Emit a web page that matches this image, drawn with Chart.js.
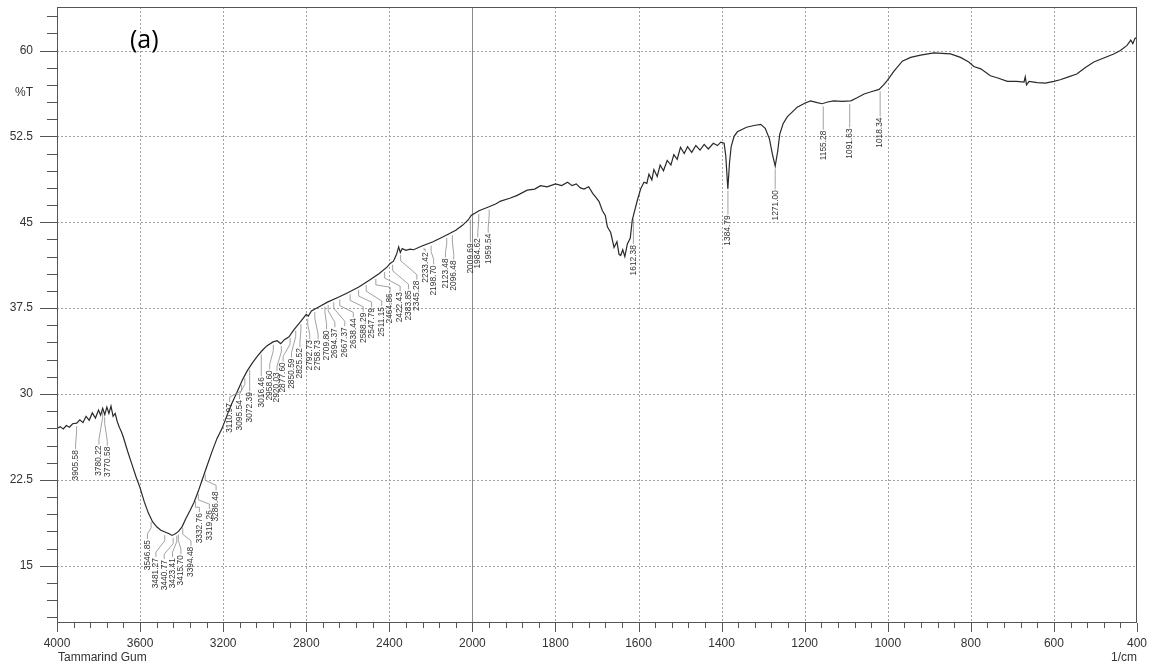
<!DOCTYPE html>
<html>
<head>
<meta charset="utf-8">
<script src="https://cdn.jsdelivr.net/npm/chart.js@4.4.1/dist/chart.umd.min.js"></script>
<style>
  html, body { margin: 0; padding: 0; background: #fff; }
  #wrap { width: 1151px; height: 667px; position: relative; }
</style>
</head>
<body>
<div id="wrap"><canvas id="ftir"></canvas></div>
<script>
// spectrum (wavenumber 1/cm, %T)
const wavenumbers = [
  4000, 3985, 3970, 3955, 3940, 3925, 3905, 3890, 3875, 3860, 3845, 3830, 3815, 3800, 3790,
  3780, 3770, 3760, 3750, 3740, 3730, 3720, 3710, 3700, 3690, 3680, 3660, 3640, 3620, 3600,
  3580, 3560, 3540, 3520, 3500, 3480, 3460, 3446, 3430, 3415, 3398, 3380, 3360, 3340, 3320,
  3300, 3280, 3255, 3230, 3205, 3180, 3160, 3140, 3120, 3108, 3085, 3060, 3035, 3012, 2990,
  2960, 2940, 2923, 2905, 2883, 2860, 2835, 2815, 2800, 2790, 2775, 2740, 2700, 2643, 2600,
  2547, 2500, 2450, 2410, 2396, 2380, 2365, 2355, 2347, 2338, 2320, 2300, 2283, 2240, 2192,
  2150, 2112, 2080, 2048, 2020, 2006, 1984, 1960, 1944, 1932, 1910, 1892, 1868, 1850, 1836,
  1820, 1800, 1785, 1771, 1760, 1750, 1740, 1731, 1720, 1710, 1703, 1695, 1687, 1680, 1675,
  1667, 1659, 1652, 1647, 1643, 1638, 1633, 1627, 1620, 1615, 1603, 1595, 1587, 1580, 1575,
  1568, 1563, 1555, 1548, 1540, 1531, 1522, 1515, 1507, 1499, 1490, 1482, 1472, 1462, 1452,
  1442, 1432, 1420, 1410, 1402, 1394, 1390, 1385, 1381, 1377, 1370, 1362, 1340, 1322, 1306,
  1295, 1285, 1278, 1271, 1265, 1260, 1252, 1242, 1218, 1200, 1186, 1170, 1158, 1145, 1130,
  1110, 1089, 1075, 1057, 1040, 1021, 1010, 1001, 985, 965, 945, 921, 889, 870, 849,
  825, 805, 793, 776, 753, 735, 712, 690, 672, 669, 666, 660, 640, 621, 600,
  585, 565, 545, 525, 504, 480, 456, 440, 424, 415, 410, 405, 400
];
const transmittance = [
  27.0, 27.15, 26.95, 27.25, 27.1, 27.4, 27.45, 27.75, 27.5, 28.05, 27.7, 28.35, 27.9, 28.6, 28.15,
  28.75, 28.2, 28.85, 28.3, 28.95, 28.05, 28.3, 27.6, 27.1, 26.7, 26.2, 25.0, 23.9, 22.8, 21.8,
  20.6, 19.6, 18.85, 18.4, 18.1, 17.95, 17.8, 17.65, 17.8, 18.0, 18.4, 19.1, 19.8, 20.55, 21.5,
  22.55, 23.6, 24.9, 26.1, 27.0, 28.2, 29.1, 29.9, 30.7, 31.2, 32.0, 32.7, 33.3, 33.8, 34.2,
  34.55, 34.65, 34.4, 34.75, 35.0, 35.6, 36.15, 36.6, 36.95, 36.8, 37.25, 37.6, 38.0, 38.47, 38.85,
  39.35, 39.9, 40.5, 41.1, 41.4, 41.6, 42.2, 42.85, 42.35, 42.7, 42.55, 42.65, 42.6, 42.95, 43.27,
  43.65, 44.0, 44.3, 44.73, 45.2, 45.6, 46.0, 46.35, 46.6, 46.85, 47.1, 47.35, 47.8, 47.9, 48.2,
  48.1, 48.35, 48.2, 48.5, 48.2, 48.35, 48.0, 47.9, 48.1, 47.5, 47.2, 46.8, 46.0, 45.6, 44.6,
  44.1, 42.8, 43.3, 42.2, 42.1, 42.6, 42.0, 43.1, 43.6, 45.2, 46.9, 47.9, 48.5, 48.4, 49.2,
  48.7, 49.6, 49.0, 50.0, 49.5, 50.4, 50.0, 50.9, 50.5, 51.55, 51.0, 51.6, 51.1, 51.7, 51.3,
  51.8, 51.4, 51.9, 51.7, 52.0, 51.9, 50.8, 47.9, 50.2, 51.6, 52.5, 52.9, 53.3, 53.45, 53.55,
  53.2, 52.3, 51.0, 49.9, 51.2, 52.7, 53.6, 54.2, 55.05, 55.4, 55.6, 55.45, 55.35, 55.5, 55.6,
  55.55, 55.6, 55.85, 56.2, 56.4, 56.6, 57.0, 57.4, 58.2, 59.07, 59.4, 59.6, 59.8, 59.75, 59.7,
  59.4, 59.0, 58.6, 58.4, 57.8, 57.6, 57.3, 57.3, 57.25, 57.7, 57.0, 57.3, 57.2, 57.15, 57.3,
  57.45, 57.7, 57.95, 58.5, 59.0, 59.35, 59.7, 60.0, 60.45, 60.9, 60.6, 61.05, 61.15
];

const xTickLabels = [4000, 3600, 3200, 2800, 2400, 2000, 1800, 1600, 1400, 1200, 1000, 800, 600, 400];
const yTickValues = [15, 22.5, 30, 37.5, 45, 52.5, 60];

const peakLabels = [
  '3905.58', '3780.22', '3770.58', '3546.85', '3481.27', '3440.77', '3423.41', '3415.70',
  '3394.48', '3332.76', '3319.26', '3286.48', '3110.97', '3095.54', '3072.39', '3016.46',
  '2958.60', '2920.03', '2877.60', '2850.59', '2825.52', '2792.73', '2758.73', '2709.80',
  '2694.37', '2667.37', '2638.44', '2588.29', '2547.79', '2511.15', '2464.86', '2422.43',
  '2383.85', '2345.28', '2233.42', '2198.70', '2123.48', '2096.48', '2009.69', '1984.62',
  '1959.54', '1612.38', '1384.79', '1271.00', '1155.28', '1091.63', '1018.34'
];
// where each peak label sits: sideways shift (px) and top end of the text (%T)
const labelDx = [
  -1, -3.7, 2.6, -3.7, -8.8, -8.9, -4.2, 2.6,
  8.2, 3.8, 11, 10.9, -12, -5.3, 0, 0,
  -3.6, -4.3, -7, -4.2, -1, 2, 3.3, 1.6,
  6.7, 11, 13.5, 13, 13, 15.5, 14.3, 15.5,
  15.8, 16.2, 1.4, 2.5, -1.3, 1.4, 0, -1,
  -1, 0, 0, 0, 0, 0, 0
];
const labelTop = [
  25.1, 25.5, 25.4, 17.25, 15.67, 15.5, 15.67, 15.93,
  16.66, 19.6, 19.86, 21.5, 29.2, 29.46, 30.16, 31.47,
  32.07, 31.9, 32.77, 33.1, 34.0, 34.7, 34.7, 35.57,
  35.74, 35.83, 36.6, 37.1, 37.5, 37.6, 38.8, 38.9,
  39.06, 39.9, 42.37, 41.24, 41.85, 41.67, 43.16, 43.6,
  44.0, 43.0, 45.6, 47.8, 53.0, 53.2, 54.15
];

// the instrument halves the scale above 2000 1/cm
function toP(wn) { return wn >= 2000 ? (4000 - wn) / 400 : 5 + (2000 - wn) / 200; }
function fromP(p) { return p <= 5 ? 4000 - p * 400 : 2000 - (p - 5) * 200; }

const points = wavenumbers.map((w, i) => ({ x: toP(w), y: transmittance[i] }));

function curveAt(p) {
  for (let i = 1; i < points.length; i++) {
    if (points[i].x >= p) {
      const a = points[i - 1], b = points[i];
      const t = (p - a.x) / (b.x - a.x || 1);
      return a.y + (b.y - a.y) * t;
    }
  }
  return points[points.length - 1].y;
}

// keep the plot box where the scan has it, ignore label overhang
function fixBox(size) {
  return s => {
    if (s.isHorizontal()) s.height = size; else s.width = size;
    s.paddingTop = 0; s.paddingBottom = 0; s.paddingLeft = 0; s.paddingRight = 0;
  };
}

const FONT = '"Liberation Sans", Arial, sans-serif';

const ftirDecor = {
  id: 'ftirDecor',
  beforeDatasetsDraw(chart) {
    const { ctx, chartArea: a, scales: { x, y } } = chart;
    ctx.save();
    ctx.lineWidth = 1;
    ctx.strokeStyle = '#a0a0a0';
    ctx.setLineDash([2, 2]);
    ctx.beginPath();
    yTickValues.forEach(v => {
      const py = Math.round(y.getPixelForValue(v)) + 0.5;
      ctx.moveTo(a.left, py); ctx.lineTo(a.right, py);
    });
    xTickLabels.forEach(w => {
      if (w === 4000 || w === 400 || w === 2000) return;
      const px = Math.round(x.getPixelForValue(toP(w))) + 0.5;
      ctx.moveTo(px, a.top); ctx.lineTo(px, a.bottom);
    });
    ctx.stroke();
    // solid line where the scale changes
    ctx.setLineDash([]);
    ctx.strokeStyle = '#8c8c8c';
    const p2 = Math.round(x.getPixelForValue(toP(2000))) + 0.5;
    ctx.beginPath(); ctx.moveTo(p2, a.top); ctx.lineTo(p2, a.bottom); ctx.stroke();
    ctx.restore();
  },
  afterDraw(chart) {
    const { ctx, chartArea: a, scales: { x, y } } = chart;
    ctx.save();
    // frame
    ctx.strokeStyle = '#555';
    ctx.lineWidth = 1;
    ctx.strokeRect(a.left + 0.5, a.top + 0.5, a.right - a.left - 1, a.bottom - a.top - 1);

    // y ticks
    ctx.beginPath();
    for (let v = 10.5; v <= 63.01; v += 1.5) {
      const py = Math.round(y.getPixelForValue(v)) + 0.5;
      const major = yTickValues.some(t => Math.abs(t - v) < 1e-6);
      ctx.moveTo(a.left - (major ? 17 : 10), py); ctx.lineTo(a.left, py);
    }
    // x ticks
    for (let k = 0; k <= 65; k++) {
      const p = k / 5;
      const px = Math.round(x.getPixelForValue(p)) + 0.5;
      ctx.moveTo(px, a.bottom); ctx.lineTo(px, a.bottom + (k % 5 === 0 ? 9 : 5));
    }
    ctx.stroke();

    // peak labels with leader lines
    ctx.strokeStyle = '#8a8a8a';
    ctx.lineWidth = 0.8;
    ctx.fillStyle = '#333';
    ctx.font = '8.4px ' + FONT;
    peakLabels.forEach((txt, i) => {
      const p = toP(parseFloat(txt));
      const xp = x.getPixelForValue(p);
      const yc = y.getPixelForValue(curveAt(p));
      const xl = xp + labelDx[i];
      const yt = y.getPixelForValue(labelTop[i]);
      const y0 = yc + 3;
      const y1 = Math.min(yc + 9, yt - 3);
      const y2 = Math.max(y1, yt - 6);
      ctx.beginPath();
      ctx.moveTo(xp, y0); ctx.lineTo(xp, y1); ctx.lineTo(xl, y2); ctx.lineTo(xl, yt - 1);
      ctx.stroke();
      ctx.save();
      ctx.translate(xl, yt);
      ctx.rotate(-Math.PI / 2);
      ctx.textAlign = 'right';
      ctx.textBaseline = 'middle';
      ctx.fillText(txt, 0, 0);
      ctx.restore();
    });

    // axis captions
    ctx.fillStyle = '#333';
    ctx.font = '12px ' + FONT;
    ctx.textBaseline = 'middle';
    ctx.textAlign = 'center';
    ctx.fillText('%T', 24, 93);
    ctx.textBaseline = 'alphabetic';
    ctx.textAlign = 'left';
    ctx.fillText('Tammarind Gum', a.left + 1, 661);
    ctx.textAlign = 'right';
    ctx.fillText('1/cm', a.right, 661);

    ctx.fillStyle = '#000';
    ctx.font = '25px "Open Sans", sans-serif';
    ctx.textAlign = 'left';
    ctx.textBaseline = 'alphabetic';
    ctx.fillText('(a)', 130, 48);
    ctx.restore();
  }
};

new Chart(document.getElementById('ftir'), {
  type: 'line',
  data: {
    datasets: [{
      label: 'Tammarind Gum',
      data: points,
      borderColor: '#2a2a2a',
      borderWidth: 1.2,
      pointRadius: 0,
      tension: 0,
      fill: false
    }]
  },
  options: {
    responsive: true,
    maintainAspectRatio: false,
    animation: false,
    devicePixelRatio: 1,
    layout: { autoPadding: false, padding: { top: 7, right: 14, left: 0, bottom: 0 } },
    plugins: { legend: { display: false }, title: { display: false }, tooltip: { enabled: false } },
    scales: {
      x: {
        type: 'linear',
        min: 0,
        max: 13,
        afterBuildTicks: s => { s.ticks = xTickLabels.map(w => ({ value: toP(w) })); },
        afterFit: fixBox(44),
        grid: { display: false, drawTicks: false },
        border: { display: false },
        ticks: {
          autoSkip: false,
          maxRotation: 0,
          padding: 13,
          color: '#333',
          font: { family: FONT, size: 12 },
          callback: v => String(Math.round(fromP(v)))
        }
      },
      y: {
        type: 'linear',
        min: 10,
        max: 63.8,
        afterBuildTicks: s => { s.ticks = yTickValues.map(v => ({ value: v })); },
        afterFit: fixBox(57),
        grid: { display: false, drawTicks: false },
        border: { display: false },
        ticks: {
          padding: 24,
          color: '#333',
          font: { family: FONT, size: 12 },
          callback: v => String(v)
        }
      }
    }
  },
  plugins: [ftirDecor]
});
</script>
</body>
</html>
